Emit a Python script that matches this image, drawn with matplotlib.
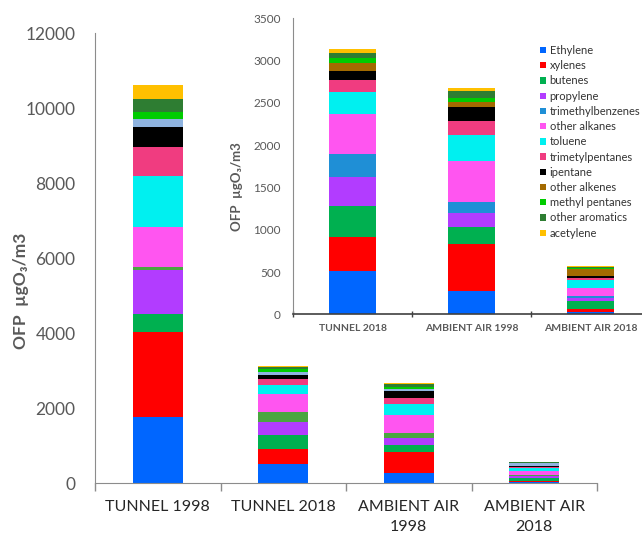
import matplotlib
matplotlib.use("Agg")
import matplotlib.pyplot as plt
from matplotlib.patches import Patch
import numpy as np

plt.rcParams['font.family'] = ['Lato', 'DejaVu Sans']

# Compounds (stacking order, bottom to top)
compounds = ["Ethylene", "xylenes", "butenes", "propylene", "trimethylbenzenes",
             "other alkanes", "toluene", "trimetylpentanes", "ipentane",
             "other alkenes", "methyl pentanes", "other aromatics", "acetylene"]

# Ozone formation potential (µgO3/m3) per compound and site
tunnel_1998 = [1770, 2265, 490, 1155, 90, 1065, 1350, 765, 535, 215, 205, 330, 380]
tunnel_2018 = [517, 394, 371, 339, 280, 473, 256, 146, 103, 91, 67, 55, 43]
ambient_1998 = [280, 548, 201, 166, 138, 481, 311, 158, 173, 59, 47, 75, 43]
ambient_2018 = [32, 30, 92, 40, 25, 97, 88, 26, 25, 80, 17, 13, 10]

main_labels = ["TUNNEL 1998", "TUNNEL 2018", "AMBIENT AIR\n1998", "AMBIENT AIR\n2018"]
inset_labels = ["TUNNEL 2018", "AMBIENT AIR 1998", "AMBIENT AIR 2018"]

main_yticks = [0, 2000, 4000, 6000, 8000, 10000, 12000]
inset_yticks = [0, 500, 1000, 1500, 2000, 2500, 3000, 3500]

inset_colors = ["#0066ff", "#ff0000", "#00b050", "#b23cff", "#1f8fd6",
                "#ff55f0", "#00f0f0", "#f03c80", "#000000",
                "#a36a00", "#00cc00", "#2e7d32", "#ffc000"]
main_colors = ["#0066ff", "#ff0000", "#00b050", "#b23cff", "#4aa640",
               "#ff55f0", "#00f0f0", "#f03c80", "#000000",
               "#8fb4e0", "#00cc00", "#2e7d32", "#ffc000"]

GREY = "#595959"
AXIS = "#8c8c8c"

fig = plt.figure(figsize=(6.42, 5.39), dpi=100)

# ---- main chart ----
ax = fig.add_axes([0.148, 0.1033, 0.782, 0.8354])
main_data = np.array([tunnel_1998, tunnel_2018, ambient_1998, ambient_2018])
x = np.arange(len(main_labels))
bottom = np.zeros(len(main_labels))
for i, name in enumerate(compounds):
    vals = main_data[:, i]
    ax.bar(x, vals, width=0.4, bottom=bottom, color=main_colors[i], linewidth=0)
    bottom += vals

ax.set_xlim(-0.5, len(main_labels) - 0.5)
ax.set_ylim(0, 12000)
ax.set_yticks(main_yticks)
ax.set_yticklabels([str(v) for v in main_yticks], fontsize=12.5, color=GREY)
ax.tick_params(axis='y', length=0, pad=14)
ax.set_xticks(x)
ax.set_xticklabels(main_labels, fontsize=11.5, color="#262626", linespacing=1.55)
ax.tick_params(axis='x', which='major', length=0, pad=12)
ax.set_xticks(np.arange(-0.5, len(main_labels)), minor=True)
ax.tick_params(axis='x', which='minor', length=6, width=1, color=AXIS, direction='out')
for s in ['top', 'right']:
    ax.spines[s].set_visible(False)
ax.spines['left'].set_color(AXIS)
ax.spines['bottom'].set_color(AXIS)
ax.set_ylabel("OFP  µgO₃/m3", fontsize=12.5, fontweight='bold', color=GREY)
ax.yaxis.set_label_coords(-0.131, 0.427)

# ---- inset chart ----
ins = fig.add_axes([0.4564, 0.4169, 0.556, 0.549])
ins.set_facecolor("white")
inset_data = np.array([tunnel_2018, ambient_1998, ambient_2018])
xi = np.arange(len(inset_labels))
bottom = np.zeros(len(inset_labels))
for i, name in enumerate(compounds):
    vals = inset_data[:, i]
    ins.bar(xi, vals, width=0.4, bottom=bottom, color=inset_colors[i], linewidth=0)
    bottom += vals

ins.set_xlim(-0.5, len(inset_labels) - 0.5)
ins.set_ylim(0, 3500)
ins.set_yticks(inset_yticks)
ins.set_yticklabels([str(v) for v in inset_yticks], fontsize=8.5, color=GREY)
ins.tick_params(axis='y', length=0, pad=9)
ins.set_xticks(xi)
ins.set_xticklabels(inset_labels, fontsize=7.5, color=GREY, fontweight='bold')
ins.tick_params(axis='x', which='major', length=0, pad=7)
ins.set_xticks(np.arange(-0.5, len(inset_labels)), minor=True)
ins.tick_params(axis='x', which='minor', length=4, width=1, color="#404040", direction='inout')
for s in ['top', 'right']:
    ins.spines[s].set_visible(False)
ins.spines['left'].set_color(AXIS)
ins.spines['bottom'].set_color("#404040")
ins.spines['bottom'].set_linewidth(1.2)
ins.set_ylabel("OFP  µgO₃/m3", fontsize=9.5, fontweight='bold', color=GREY)
ins.yaxis.set_label_coords(-0.14, 0.43)

handles = [Patch(facecolor=c, edgecolor='none') for c in inset_colors]
leg = ins.legend(handles, compounds, loc='upper left', bbox_to_anchor=(0.68, 0.925),
                 frameon=False, fontsize=8, handlelength=0.5, handleheight=0.5,
                 handletextpad=0.35, labelspacing=0.38, borderaxespad=0)
for t in leg.get_texts():
    t.set_color("#333333")

fig.savefig("out.png", dpi=100)
